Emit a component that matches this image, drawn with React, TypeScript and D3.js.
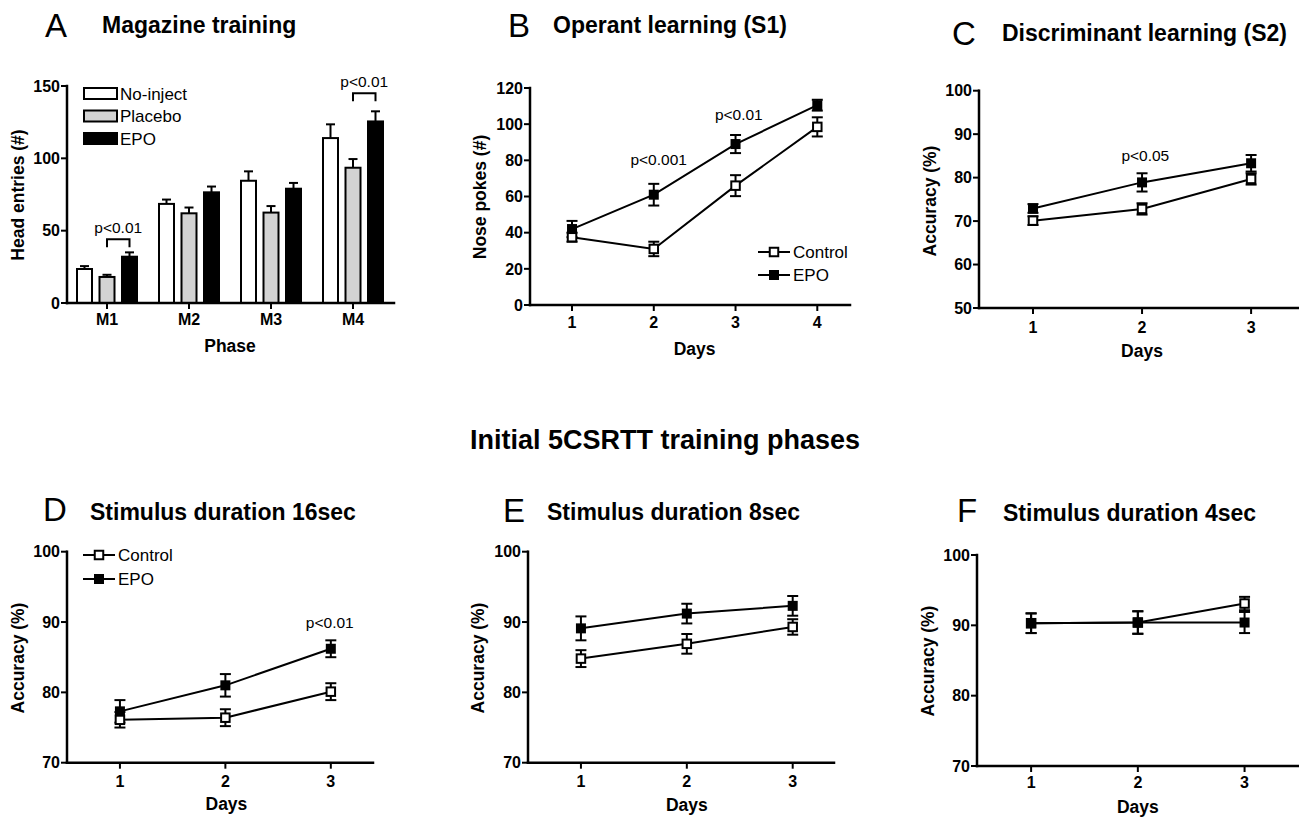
import React from "react";
import * as d3 from "d3";

const FONT = "'Liberation Sans', Arial, Helvetica, sans-serif";

// A: magazine training (bars)
const phases = ["M1", "M2", "M3", "M4"];
const magGroups = ["No-inject", "Placebo", "EPO"];
const noInject = [23.5, 68.5, 84.5, 114];
const noInjectErr = [2, 3, 6.5, 9.5];
const placebo = [18, 62, 62.5, 93.5];
const placeboErr = [1.5, 4, 4.5, 6];
const epoMag = [32, 76.5, 79, 125.5];
const epoMagErr = [3, 4, 4, 7];
const magTicks = [0, 50, 100, 150];
const magSig = [
  { phase: "M1", y: 44, label: "p<0.01" },
  { phase: "M4", y: 145, label: "p<0.01" },
];

// B: operant learning (S1)
const operantDays = [1, 2, 3, 4];
const operantControl = [37.5, 31, 66, 98.5];
const operantControlErr = [2.5, 4, 5.8, 5.3];
const operantEPO = [42, 61, 89, 110.5];
const operantEPOErr = [4.5, 6, 5, 3];
const operantTicks = [0, 20, 40, 60, 80, 100, 120];
const operantSig = [
  { x: 2.06, y: 77.4, label: "p<0.001" },
  { x: 3.04, y: 102.3, label: "p<0.01" },
];

// C: discriminant learning (S2)
const threeDays = [1, 2, 3];
const discControl = [70.1, 72.8, 79.7];
const discControlErr = [1, 1.3, 1.3];
const discEPO = [72.9, 78.9, 83.3];
const discEPOErr = [1, 2.1, 1.9];
const discTicks = [50, 60, 70, 80, 90, 100];
const discSig = [{ x: 2.03, y: 83.9, label: "p<0.05" }];

// D–F: stimulus duration 16 / 8 / 4 sec
const accTicks = [70, 80, 90, 100];
const d16Control = [76.1, 76.4, 80.1];
const d16ControlErr = [1.1, 1.2, 1.2];
const d16EPO = [77.3, 81, 86.2];
const d16EPOErr = [1.6, 1.6, 1.2];
const d16Sig = [{ x: 2.99, y: 89.1, label: "p<0.01" }];

const d8Control = [84.8, 86.9, 89.3];
const d8ControlErr = [1.2, 1.4, 1.1];
const d8EPO = [89.1, 91.2, 92.3];
const d8EPOErr = [1.7, 1.4, 1.4];

const d4Control = [90.3, 90.4, 93.1];
const d4ControlErr = [1.4, 1.6, 0.95];
const d4EPO = [90.3, 90.4, 90.4];
const d4EPOErr = [1.4, 1.6, 1.5];

const seriesNames = ["Control", "EPO"];

const AXIS_W = 2.5;
const TICK = 6;

function PanelHeading({ letter, lx, ly, title, tx, ty }) {
  return (
    <g>
      <text x={lx} y={ly} fontSize={33} fontFamily={FONT}>{letter}</text>
      <text x={tx} y={ty} fontSize={23} fontWeight="bold" fontFamily={FONT}>{title}</text>
    </g>
  );
}

function YAxis({ y, ticks, x0, label, labelX, labelY }) {
  return (
    <g fontFamily={FONT}>
      <line x1={x0} x2={x0} y1={y(ticks[ticks.length - 1])} y2={y(ticks[0])} stroke="#000" strokeWidth={AXIS_W} strokeLinecap="square" />
      {ticks.map((t) => (
        <g key={t}>
          <line x1={x0 - TICK} x2={x0} y1={y(t)} y2={y(t)} stroke="#000" strokeWidth={2} />
          <text x={x0 - TICK - 1} y={y(t)} dy="0.36em" textAnchor="end" fontSize={16} fontWeight="bold">{t}</text>
        </g>
      ))}
      <text transform={`translate(${labelX},${labelY}) rotate(-90)`} textAnchor="middle" dy="0.35em" fontSize={17.5} fontWeight="bold">{label}</text>
    </g>
  );
}

function ErrBar({ cx, yLo, yHi, cap, top = true, bottom = true }) {
  return (
    <g stroke="#000" strokeWidth={2}>
      <line x1={cx} x2={cx} y1={yLo} y2={yHi} />
      {top && <line x1={cx - cap} x2={cx + cap} y1={yHi} y2={yHi} />}
      {bottom && <line x1={cx - cap} x2={cx + cap} y1={yLo} y2={yLo} />}
    </g>
  );
}

function Marker({ cx, cy, filled }) {
  const s = filled ? 10 : 8.5;
  return (
    <rect x={cx - s / 2} y={cy - s / 2} width={s} height={s} fill={filled ? "#000" : "#fff"} stroke="#000" strokeWidth={filled ? 0 : 2} />
  );
}

function LinePanel(p) {
  const x = d3.scaleLinear().domain(p.xDomain).range(p.xRange);
  const y = d3.scaleLinear().domain([p.yTicks[0], p.yTicks[p.yTicks.length - 1]]).range(p.yRange);
  const x0 = p.xRange[0];
  const yBase = p.yRange[0];
  const series = [
    { name: seriesNames[0], vals: p.control, errs: p.controlErr, filled: false },
    { name: seriesNames[1], vals: p.epo, errs: p.epoErr, filled: true },
  ];
  const line = d3.line<number>().x((_, i) => x(p.days[i])).y((d) => y(d));
  return (
    <g fontFamily={FONT}>
      <PanelHeading {...p.heading} />
      <YAxis y={y} ticks={p.yTicks} x0={x0} label={p.yLabel} labelX={p.yLabelX} labelY={p.yLabelY} />
      <line x1={x0} x2={p.xRange[1]} y1={yBase} y2={yBase} stroke="#000" strokeWidth={AXIS_W} strokeLinecap="square" />
      {p.days.map((d) => (
        <g key={d}>
          <line x1={x(d)} x2={x(d)} y1={yBase} y2={yBase + TICK} stroke="#000" strokeWidth={2} />
          <text x={x(d)} y={p.tickBaseline} textAnchor="middle" fontSize={16} fontWeight="bold">{d}</text>
        </g>
      ))}
      <text x={x(p.xLabelAt)} y={p.xLabelBaseline} textAnchor="middle" fontSize={17.5} fontWeight="bold">Days</text>
      {series.map((s) => (
        <g key={s.name}>
          <path d={line(s.vals) || ""} fill="none" stroke="#000" strokeWidth={2} />
          {s.vals.map((v, i) => (
            <ErrBar key={i} cx={x(p.days[i])} yLo={y(v - s.errs[i])} yHi={y(v + s.errs[i])} cap={5.5} />
          ))}
        </g>
      ))}
      {series.map((s) => (
        <g key={s.name + "m"}>
          {s.vals.map((v, i) => (
            <Marker key={i} cx={x(p.days[i])} cy={y(v)} filled={s.filled} />
          ))}
        </g>
      ))}
      {(p.sig || []).map((a, i) => (
        <text key={i} x={x(a.x)} y={y(a.y)} textAnchor="middle" fontSize={15.5}>{a.label}</text>
      ))}
      {p.legend && (
        <g fontSize={17}>
          {series.map((s, i) => {
            const ly = p.legend.y + i * p.legend.dy;
            return (
              <g key={s.name}>
                <line x1={p.legend.x} x2={p.legend.x + 32} y1={ly} y2={ly} stroke="#000" strokeWidth={2} />
                <Marker cx={p.legend.x + 16} cy={ly} filled={s.filled} />
                <text x={p.legend.x + 35} y={ly} dy="0.36em">{s.name}</text>
              </g>
            );
          })}
        </g>
      )}
    </g>
  );
}

function BarPanel() {
  const x = d3.scaleBand<string>().domain(phases).range([66, 394]);
  const inner = d3.scalePoint<string>().domain(magGroups).range([-22.5, 22.5]);
  const y = d3.scaleLinear().domain([0, 150]).range([303, 86]);
  const vals = [noInject, placebo, epoMag];
  const errs = [noInjectErr, placeboErr, epoMagErr];
  const fills = ["#fff", "#d3d3d3", "#000"];
  const bw = 15;
  const cx = (ph: string) => (x(ph) || 0) + x.bandwidth() / 2;
  return (
    <g fontFamily={FONT}>
      <PanelHeading letter="A" lx={45} ly={37} title="Magazine training" tx={102} ty={33} />
      <YAxis y={y} ticks={magTicks} x0={67} label="Head entries (#)" labelX={18} labelY={195} />
      {magGroups.map((g, gi) =>
        phases.map((ph, i) => {
          const c = cx(ph) + (inner(g) || 0);
          return (
            <g key={g + ph}>
              <ErrBar cx={c} yLo={y(vals[gi][i])} yHi={y(vals[gi][i] + errs[gi][i])} cap={4.5} bottom={false} />
              <rect x={c - bw / 2} y={y(vals[gi][i])} width={bw} height={y(0) - y(vals[gi][i])} fill={fills[gi]} stroke="#000" strokeWidth={2} />
            </g>
          );
        })
      )}
      <line x1={67} x2={394} y1={y(0)} y2={y(0)} stroke="#000" strokeWidth={AXIS_W} strokeLinecap="square" />
      {phases.map((ph) => (
        <g key={ph}>
          <line x1={cx(ph)} x2={cx(ph)} y1={y(0)} y2={y(0) + TICK} stroke="#000" strokeWidth={2} />
          <text x={cx(ph)} y={325} textAnchor="middle" fontSize={16} fontWeight="bold">{ph}</text>
        </g>
      ))}
      <text x={230} y={352} textAnchor="middle" fontSize={17.5} fontWeight="bold">Phase</text>
      {magSig.map((s) => {
        const a = cx(s.phase) + (inner("Placebo") || 0);
        const b = cx(s.phase) + (inner("EPO") || 0);
        const by = y(s.y);
        return (
          <g key={s.phase}>
            <path d={`M${a},${by + 8}V${by}H${b}V${by + 8}`} fill="none" stroke="#000" strokeWidth={2} />
            <text x={(a + b) / 2} y={by - 6} textAnchor="middle" fontSize={15.5}>{s.label}</text>
          </g>
        );
      })}
      <g fontSize={17}>
        {magGroups.map((g, i) => (
          <g key={g}>
            <rect x={84} y={88} width={33} height={11} transform={`translate(0,${i * 22.5})`} fill={fills[i]} stroke="#000" strokeWidth={2} />
            <text x={120} y={93.5 + i * 22.5} dy="0.36em">{g}</text>
          </g>
        ))}
      </g>
    </g>
  );
}

export default function App() {
  return (
    <svg width={1299} height={819} style={{ position: "absolute", left: 0, top: 0, background: "#fff" }}>
      <rect width={1299} height={819} fill="#fff" />
      <BarPanel />
      <LinePanel
        heading={{ letter: "B", lx: 508, ly: 37, title: "Operant learning (S1)", tx: 553, ty: 33 }}
        xDomain={[0.486, 4.4]} xRange={[530, 850]} yRange={[305, 88]} yTicks={operantTicks}
        days={operantDays} control={operantControl} controlErr={operantControlErr} epo={operantEPO} epoErr={operantEPOErr}
        yLabel="Nose pokes (#)" yLabelX={480} yLabelY={197} tickBaseline={328} xLabelAt={2.5} xLabelBaseline={355}
        sig={operantSig} legend={{ x: 758, y: 252, dy: 23 }}
      />
      <LinePanel
        heading={{ letter: "C", lx: 952, ly: 45, title: "Discriminant learning (S2)", tx: 1002, ty: 41 }}
        xDomain={[0.505, 3.43]} xRange={[979, 1298]} yRange={[308, 90.7]} yTicks={discTicks}
        days={threeDays} control={discControl} controlErr={discControlErr} epo={discEPO} epoErr={discEPOErr}
        yLabel="Accuracy (%)" yLabelX={930} yLabelY={201} tickBaseline={333} xLabelAt={2} xLabelBaseline={357}
        sig={discSig}
      />
      <text x={665} y={449} textAnchor="middle" fontSize={27} fontWeight="bold" fontFamily={FONT}>Initial 5CSRTT training phases</text>
      <LinePanel
        heading={{ letter: "D", lx: 43, ly: 521, title: "Stimulus duration 16sec", tx: 90, ty: 520 }}
        xDomain={[0.498, 3.4]} xRange={[67, 373]} yRange={[762.7, 551.7]} yTicks={accTicks}
        days={threeDays} control={d16Control} controlErr={d16ControlErr} epo={d16EPO} epoErr={d16EPOErr}
        yLabel="Accuracy (%)" yLabelX={18} yLabelY={658} tickBaseline={787} xLabelAt={2.01} xLabelBaseline={810}
        sig={d16Sig} legend={{ x: 83, y: 555, dy: 24 }}
      />
      <LinePanel
        heading={{ letter: "E", lx: 503, ly: 522, title: "Stimulus duration 8sec", tx: 547, ty: 520 }}
        xDomain={[0.5, 3.39]} xRange={[528, 834]} yRange={[762.7, 551.7]} yTicks={accTicks}
        days={threeDays} control={d8Control} controlErr={d8ControlErr} epo={d8EPO} epoErr={d8EPOErr}
        yLabel="Accuracy (%)" yLabelX={478} yLabelY={658} tickBaseline={787} xLabelAt={2} xLabelBaseline={811}
      />
      <LinePanel
        heading={{ letter: "F", lx: 957, ly: 522, title: "Stimulus duration 4sec", tx: 1003, ty: 521 }}
        xDomain={[0.493, 3.51]} xRange={[977, 1299]} yRange={[766, 555]} yTicks={accTicks}
        days={threeDays} control={d4Control} controlErr={d4ControlErr} epo={d4EPO} epoErr={d4EPOErr}
        yLabel="Accuracy (%)" yLabelX={928} yLabelY={661} tickBaseline={788} xLabelAt={2} xLabelBaseline={813}
      />
    </svg>
  );
}
